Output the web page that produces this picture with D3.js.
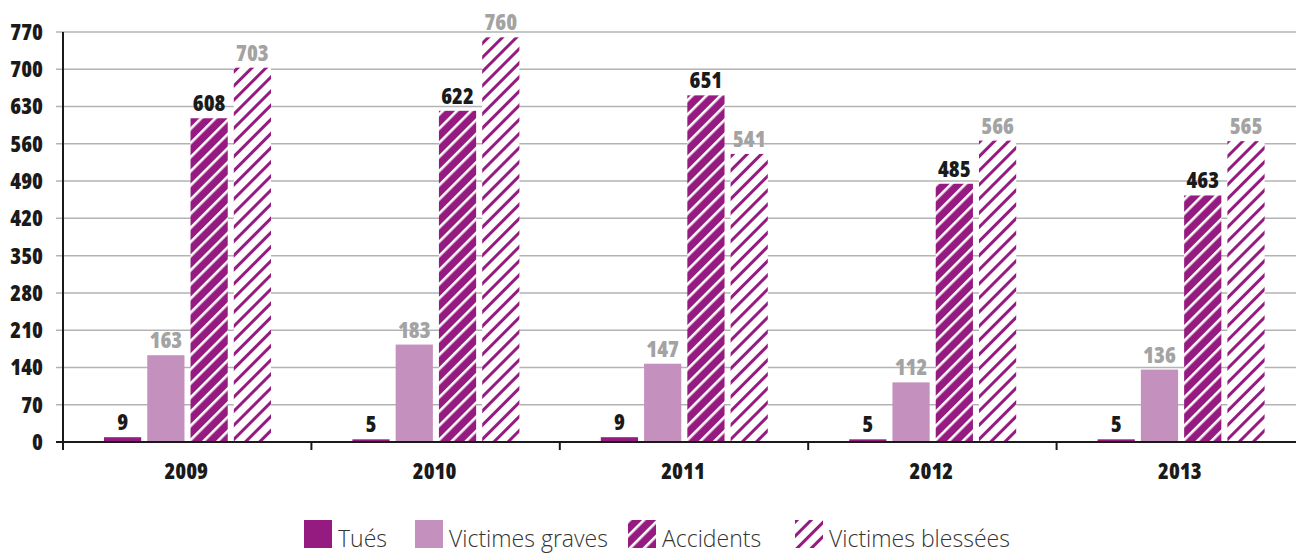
<!DOCTYPE html>
<html><head><meta charset="utf-8">
<script src="https://cdn.jsdelivr.net/npm/d3@7"></script>
<style>body{margin:0;background:#fff}svg{display:block}text.c{font-stretch:condensed}</style>
</head><body>
<svg id="c" width="1296" height="553"></svg>
<script>
const years = ["2009","2010","2011","2012","2013"];
const seriesNames = ["Tués","Victimes graves","Accidents","Victimes blessées"];
const tues = [9,5,9,5,5];
const victimesGraves = [163,183,147,112,136];
const accidents = [608,622,651,485,463];
const victimesBlessees = [703,760,541,566,565];
const yTicks = [0,70,140,210,280,350,420,490,560,630,700,770];

(function(){
const seriesValues = [tues, victimesGraves, accidents, victimesBlessees];
const purple = "#951b81", pink = "#c490be";
const labelColors = ["#1a1a1a","#a3a3a3","#1a1a1a","#a3a3a3"];

const svg = d3.select("#c");
const defs = svg.append("defs");
const pA = defs.append("pattern").attr("id","hatchA").attr("patternUnits","userSpaceOnUse")
  .attr("width",10).attr("height",10).attr("patternTransform","rotate(45)");
pA.append("rect").attr("width",10).attr("height",10).attr("fill",purple);
pA.append("rect").attr("x",0).attr("width",2.6).attr("height",10).attr("fill","#fff");
const pB = defs.append("pattern").attr("id","hatchB").attr("patternUnits","userSpaceOnUse")
  .attr("width",10).attr("height",10).attr("patternTransform","rotate(45)");
pB.append("rect").attr("width",10).attr("height",10).attr("fill","#fff");
pB.append("rect").attr("x",0).attr("width",3).attr("height",10).attr("fill",purple);
const fillOf = i => i===0?purple : i===1?pink : i===2?"url(#hatchA)":"url(#hatchB)";

const mLeft = 63, mTop = 32, mBottom = 442, mRight = 1305;
const y = d3.scaleLinear().domain([0,770]).range([mBottom, mTop]);
const x0 = d3.scaleBand().domain(years).range([mLeft, mRight]).padding(0);
const x1 = d3.scaleBand().domain(d3.range(4)).range([41, 208]).paddingInner(0.14).paddingOuter(0);

const font = "'Open Sans', sans-serif";

svg.append("g").selectAll("line").data(yTicks.filter(t=>t>0)).join("line")
  .attr("x1",56).attr("x2",1296).attr("y1",d=>y(d)).attr("y2",d=>y(d))
  .attr("stroke","#b3b3b3").attr("stroke-width",1.5);

svg.append("g").selectAll("text").data(yTicks).join("text").attr("class","c")
  .attr("x",43).attr("y",d=>y(d)).attr("dy","0.36em").attr("text-anchor","end")
  .attr("font-family",font).attr("font-weight","800").attr("font-size",22)
  .attr("fill","#1a1a1a").text(d=>d);

const groups = svg.append("g").selectAll("g").data(years).join("g")
  .attr("transform",d=>`translate(${x0(d)},0)`);
groups.each(function(yr, gi){
  const g = d3.select(this);
  seriesValues.forEach((arr, si)=>{
    const v = arr[gi];
    g.append("rect").attr("x",x1(si)).attr("width",x1.bandwidth())
      .attr("y",y(v)).attr("height",mBottom - y(v)).attr("fill",fillOf(si));
    g.append("text").attr("class","c").attr("x",x1(si)+x1.bandwidth()/2).attr("y",y(v)-7)
      .attr("text-anchor","middle").attr("font-family",font).attr("font-weight","800")
      .attr("font-size",22).attr("fill",labelColors[si]).text(v);
  });
});

svg.append("line").attr("x1",mLeft).attr("x2",mLeft).attr("y1",mTop).attr("y2",mBottom+8)
  .attr("stroke","#1a1a1a").attr("stroke-width",2);
svg.append("line").attr("x1",56).attr("x2",1296).attr("y1",mBottom).attr("y2",mBottom)
  .attr("stroke","#1a1a1a").attr("stroke-width",2);
const bounds = years.map(d=>x0(d)).concat([x0(years[4])+x0.bandwidth()]);
svg.append("g").selectAll("line").data(bounds.slice(1)).join("line")
  .attr("x1",d=>d).attr("x2",d=>d).attr("y1",mBottom).attr("y2",mBottom+8)
  .attr("stroke","#1a1a1a").attr("stroke-width",2);

svg.append("g").selectAll("text").data(years).join("text").attr("class","c")
  .attr("x",d=>x0(d)+x0.bandwidth()/2-1).attr("y",479).attr("text-anchor","middle")
  .attr("font-family",font).attr("font-weight","800").attr("font-size",22)
  .attr("fill","#1a1a1a").text(d=>d);

const legX = [304, 415, 628, 795];
const leg = svg.append("g").selectAll("g").data(seriesNames).join("g")
  .attr("transform",(d,i)=>`translate(${legX[i]},520)`);
leg.append("rect").attr("width",28).attr("height",28).attr("fill",(d,i)=>fillOf(i));
leg.append("text").attr("x",34).attr("y",27).attr("font-family",font).attr("font-weight","300")
  .attr("font-size",23).attr("fill","#333").text(d=>d);
})();
</script>
</body></html>
